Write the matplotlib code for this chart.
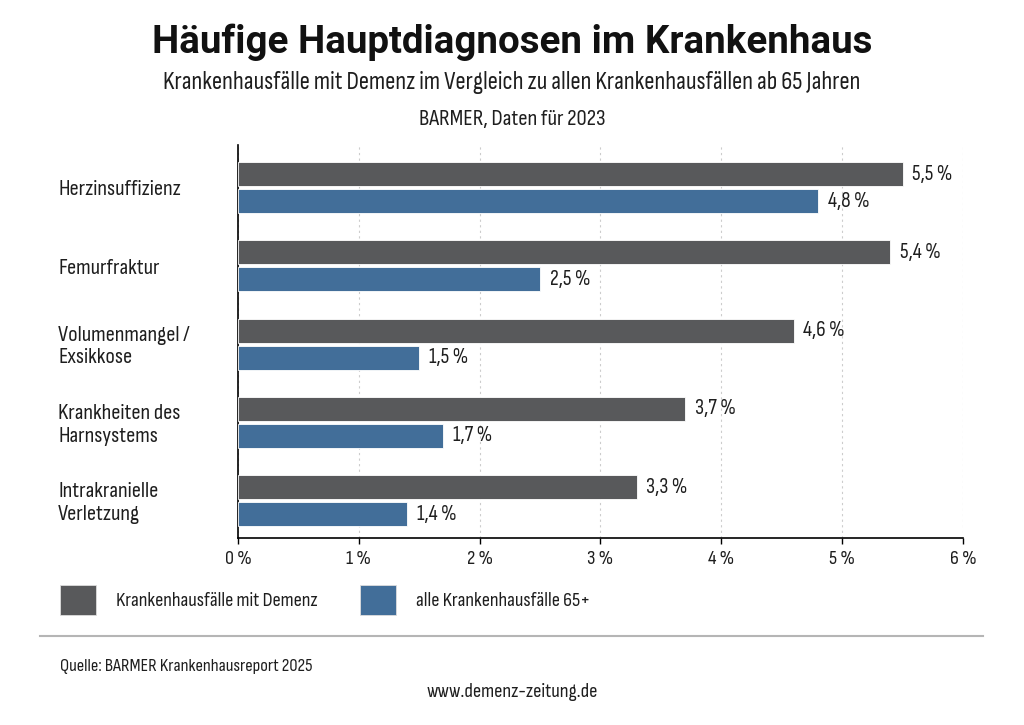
import numpy as np
import matplotlib.pyplot as plt
from matplotlib.patches import Rectangle
from matplotlib.lines import Line2D

# condensed face for the body text, Roboto as fallback
plt.rcParams['font.family'] = ['Sofia Sans Condensed', 'Roboto', 'DejaVu Sans']
title_font = ['Roboto', 'DejaVu Sans']

# data
categories = ['Herzinsuffizienz', 'Femurfraktur', 'Volumenmangel /\nExsikkose',
              'Krankheiten des\nHarnsystems', 'Intrakranielle\nVerletzung']
demenz = [5.5, 5.4, 4.6, 3.7, 3.3]
alle_65 = [4.8, 2.5, 1.5, 1.7, 1.4]
series_names = ['Krankenhausfälle mit Demenz', 'alle Krankenhausfälle 65+']
xticks = [0, 1, 2, 3, 4, 5, 6]

col_dark = '#58595b'
col_blue = '#426e99'
txt = '#1e1e1e'

fig = plt.figure(figsize=(10.24, 7.25), dpi=100)
ax = fig.add_axes([0.2324, 0.2579, 0.708, 0.542])

y = np.arange(len(categories))
off = 0.1725
h = 0.307
ax.barh(y - off, demenz, height=h, color=col_dark, edgecolor='white', linewidth=0.6, zorder=3)
ax.barh(y + off, alle_65, height=h, color=col_blue, edgecolor='white', linewidth=0.6, zorder=3)

def fmt(v):
    return f'{v:.1f}'.replace('.', ',') + ' %'

for yi, v in zip(y - off, demenz):
    ax.text(v + 0.08, yi, fmt(v), va='center', ha='left', fontsize=15.5, color=txt)
for yi, v in zip(y + off, alle_65):
    ax.text(v + 0.08, yi, fmt(v), va='center', ha='left', fontsize=15.5, color=txt)

ax.set_xlim(0, 6)
ax.set_ylim(4.479, -0.543)
ax.set_xticks(xticks)
ax.set_xticklabels([f'{t} %' for t in xticks], fontsize=14.5, color=txt)
ax.set_yticks([])
for s in ['top', 'right']:
    ax.spines[s].set_visible(False)
ax.spines['left'].set_linewidth(1.2)
ax.spines['bottom'].set_linewidth(1.2)
ax.tick_params(axis='x', length=4, width=1, pad=4.5)
ax.grid(axis='x', linestyle=(0, (2, 3)), color='#cccccc', linewidth=0.8, zorder=0)

# category labels
for yi, c in zip(y, categories):
    fig.text(58 / 1024, 1 - (187 + yi * 78.25) / 725 - 0.004, c, ha='left', va='center',
             fontsize=16.3, color=txt, linespacing=1.25)

# titles
fig.text(0.5, 1 - 42 / 725, 'Häufige Hauptdiagnosen im Krankenhaus', ha='center', va='center',
         fontsize=27.7, fontweight='bold', color='#111111', family=title_font)
fig.text(0.5, 1 - 82 / 725, 'Krankenhausfälle mit Demenz im Vergleich zu allen Krankenhausfällen ab 65 Jahren',
         ha='center', va='center', fontsize=18.2, color=txt)
fig.text(0.5, 1 - 120 / 725, 'BARMER, Daten für 2023', ha='center', va='center',
         fontsize=16.5, color=txt)

# legend
for x0, col, name in [(60, col_dark, series_names[0]), (360, col_blue, series_names[1])]:
    fig.patches.append(Rectangle((x0 / 1024, 1 - 615 / 725), 36 / 1024, 30 / 725,
                                 transform=fig.transFigure, facecolor=col, edgecolor='#dddddd',
                                 linewidth=0.6))
    fig.text((x0 + 56) / 1024, 1 - 601 / 725, name, ha='left', va='center',
             fontsize=14.6, color=txt)

# separator and footer
fig.lines.append(Line2D([40 / 1024, 983 / 1024], [1 - 636 / 725] * 2, transform=fig.transFigure,
                        color='#b5b5b5', linewidth=1.5))
fig.text(60 / 1024, 1 - 667 / 725, 'Quelle: BARMER Krankenhausreport 2025', ha='left', va='center',
         fontsize=13.3, color=txt)
fig.text(0.5, 1 - 692 / 725, 'www.demenz-zeitung.de', ha='center', va='center',
         fontsize=14.7, color=txt)

fig.savefig('out.png', dpi=100, facecolor='white')
